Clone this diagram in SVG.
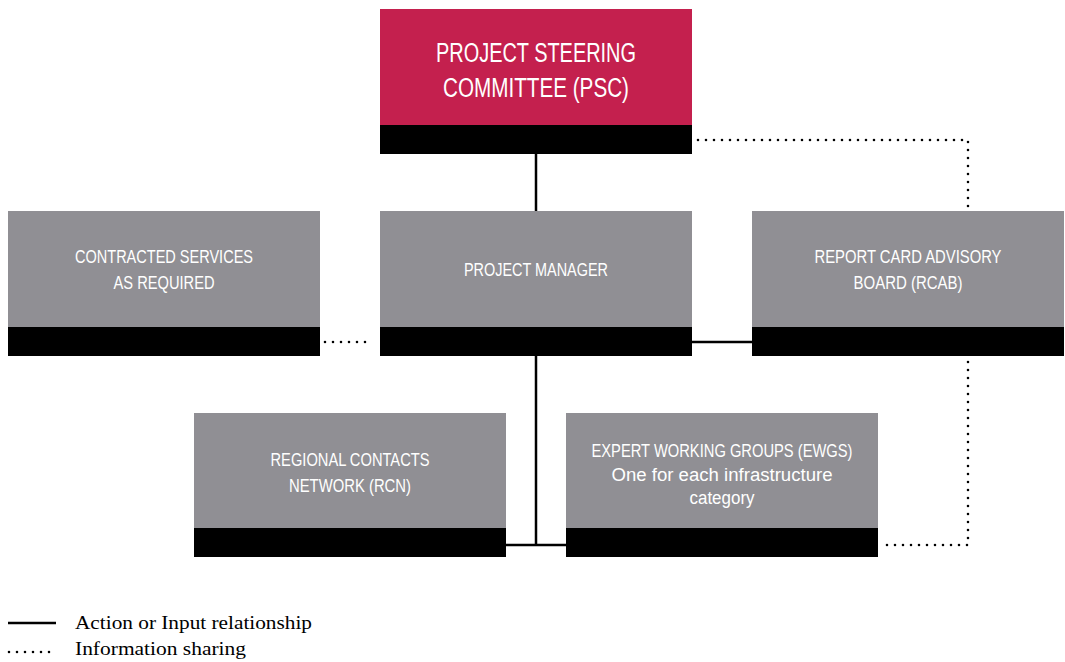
<svg xmlns="http://www.w3.org/2000/svg" width="1065" height="662" viewBox="0 0 1065 662">
<style>
.g{fill:#908f94}.r{fill:#c4204e}.b{fill:#000}
.t{font-family:"Liberation Sans","DejaVu Sans",sans-serif;fill:#fff;text-anchor:middle;font-size:18px}
.tb{font-size:27px}
.sol{stroke:#000;stroke-width:2.5;fill:none}
.dot{stroke:#000;stroke-width:2.6;fill:none;stroke-linecap:round;stroke-dasharray:0 8}
.lg{font-family:"Liberation Serif","Times New Roman",serif;font-size:19px;fill:#000}
</style>
<rect width="1065" height="662" fill="#fff"/>
<g id="connectors">
<line class="sol" x1="536" y1="153" x2="536" y2="211"/>
<line class="sol" x1="692" y1="342" x2="752" y2="342"/>
<line class="sol" x1="536" y1="355" x2="536" y2="545"/>
<line class="sol" x1="506" y1="545" x2="566" y2="545"/>
<path class="dot" d="M698 140 H968 V211"/>
<line class="dot" x1="325" y1="342" x2="373" y2="342"/>
<path class="dot" d="M968 362 V545 H885"/>
</g>
<g id="psc">
<rect class="r" x="380" y="9" width="312" height="116"/>
<rect class="b" x="380" y="125" width="312" height="29"/>
<text class="t tb" x="536" y="62" textLength="200" lengthAdjust="spacingAndGlyphs">PROJECT STEERING</text>
<text class="t tb" x="536" y="97" textLength="186" lengthAdjust="spacingAndGlyphs">COMMITTEE (PSC)</text>
</g>
<g id="contracted">
<rect class="g" x="8" y="211" width="312" height="116"/>
<rect class="b" x="8" y="327" width="312" height="29"/>
<text class="t" x="164" y="263" textLength="178" lengthAdjust="spacingAndGlyphs">CONTRACTED SERVICES</text>
<text class="t" x="164" y="289" textLength="101" lengthAdjust="spacingAndGlyphs">AS REQUIRED</text>
</g>
<g id="pm">
<rect class="g" x="380" y="211" width="312" height="116"/>
<rect class="b" x="380" y="327" width="312" height="29"/>
<text class="t" x="536" y="276" textLength="144" lengthAdjust="spacingAndGlyphs">PROJECT MANAGER</text>
</g>
<g id="rcab">
<rect class="g" x="752" y="211" width="312" height="116"/>
<rect class="b" x="752" y="327" width="312" height="29"/>
<text class="t" x="908" y="263" textLength="187" lengthAdjust="spacingAndGlyphs">REPORT CARD ADVISORY</text>
<text class="t" x="908" y="289" textLength="109" lengthAdjust="spacingAndGlyphs">BOARD (RCAB)</text>
</g>
<g id="rcn">
<rect class="g" x="194" y="413" width="312" height="115"/>
<rect class="b" x="194" y="528" width="312" height="29"/>
<text class="t" x="350" y="466" textLength="159" lengthAdjust="spacingAndGlyphs">REGIONAL CONTACTS</text>
<text class="t" x="350" y="492" textLength="122" lengthAdjust="spacingAndGlyphs">NETWORK (RCN)</text>
</g>
<g id="ewg">
<rect class="g" x="566" y="413" width="312" height="115"/>
<rect class="b" x="566" y="528" width="312" height="29"/>
<text class="t" x="722" y="457" textLength="261" lengthAdjust="spacingAndGlyphs">EXPERT WORKING GROUPS (EWGS)</text>
<text class="t" x="722" y="481" textLength="221" lengthAdjust="spacingAndGlyphs">One for each infrastructure</text>
<text class="t" x="722" y="504" textLength="65" lengthAdjust="spacingAndGlyphs">category</text>
</g>
<g id="legend">
<line class="sol" x1="8" y1="623" x2="56" y2="623"/>
<line class="dot" x1="9" y1="652" x2="57" y2="652"/>
<text class="lg" x="75" y="629" textLength="237" lengthAdjust="spacingAndGlyphs">Action or Input relationship</text>
<text class="lg" x="75" y="655" textLength="171" lengthAdjust="spacingAndGlyphs">Information sharing</text>
</g>
</svg>
